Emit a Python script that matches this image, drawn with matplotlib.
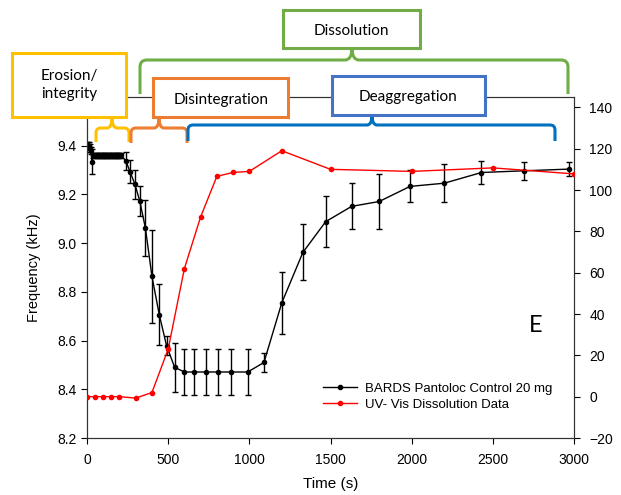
import matplotlib
matplotlib.use("Agg")
import matplotlib.pyplot as plt
from matplotlib.patches import Rectangle, PathPatch
from matplotlib.path import Path
from matplotlib.lines import Line2D

# ---------------- data ----------------
bards_time = [0, 5, 10, 15, 20, 25, 30,
              40, 50, 60, 70, 80, 90, 100, 110, 120, 130, 140, 150, 160, 170, 180, 190, 200, 210,
              240, 265, 295, 325, 360, 400, 445, 490, 540, 600, 660, 730, 810, 890, 990,
              1090, 1200, 1330, 1470, 1630, 1800, 1990, 2200, 2430, 2690, 2970]
bards_freq = [9.40, 9.40, 9.39, 9.40, 9.39, 9.38, 9.335,
              9.36, 9.36, 9.36, 9.36, 9.36, 9.36, 9.36, 9.36, 9.36, 9.36, 9.36, 9.36, 9.36, 9.36, 9.36, 9.36, 9.36, 9.36,
              9.337, 9.293, 9.242, 9.173, 9.061, 8.864, 8.707, 8.579, 8.490, 8.471, 8.471, 8.471, 8.471, 8.471, 8.471,
              8.510, 8.755, 8.962, 9.088, 9.151, 9.171, 9.233, 9.246, 9.290, 9.297, 9.304]
bards_err = [0.015, 0.015, 0.015, 0.015, 0.015, 0.015, 0.05,
             0.012, 0.012, 0.012, 0.012, 0.012, 0.012, 0.012, 0.012, 0.012, 0.012, 0.012, 0.012, 0.012, 0.012, 0.012, 0.012, 0.012, 0.012,
             0.038, 0.048, 0.06, 0.06, 0.115, 0.19, 0.124, 0.038, 0.10, 0.095, 0.095, 0.095, 0.095, 0.095, 0.095,
             0.037, 0.128, 0.115, 0.104, 0.094, 0.111, 0.066, 0.078, 0.049, 0.038, 0.029]

uv_time = [0, 50, 100, 150, 200, 300, 400, 500, 600, 700, 800, 900, 1000, 1200, 1500, 2000, 2500, 3000]
uv_value = [0, 0, 0, 0, 0, -0.7, 2, 23, 62, 87, 106.6, 108.5, 109, 119, 110, 109, 110.7, 107.8]

x_ticks = [0, 500, 1000, 1500, 2000, 2500, 3000]
left_ticks = [8.2, 8.4, 8.6, 8.8, 9.0, 9.2, 9.4]
right_ticks = [-20, 0, 20, 40, 60, 80, 100, 120, 140]

label_bards = "BARDS Pantoloc Control 20 mg"
label_uv = "UV- Vis Dissolution Data"

# ---------------- figure ----------------
W, H = 621, 495
fig = plt.figure(figsize=(W / 100, H / 100), dpi=100)
plt.rcParams['font.family'] = ['Liberation Sans', 'DejaVu Sans']

ax = fig.add_axes([87 / W, 1 - 438 / H, (574 - 87) / W, (438 - 97) / H])
ax.errorbar(bards_time, bards_freq, yerr=bards_err, fmt='none', ecolor='black',
            elinewidth=1.0, capsize=2.2, capthick=1.0, zorder=2)
ax.plot(bards_time, bards_freq, color='black', lw=1.0, marker='o', ms=3.0, zorder=3)
ax.set_xlim(0, 3000)
ax.set_ylim(8.2, 9.6)
ax.set_xticks(x_ticks)
ax.set_yticks(left_ticks)
ax.set_yticklabels([f"{v:.1f}" for v in left_ticks])
ax.tick_params(direction='out', length=4, width=0.8, labelsize=10, colors='black')
ax.tick_params(axis='x', pad=7)
ax.set_xlabel("Time (s)", fontsize=11, labelpad=7)
ax.set_ylabel("Frequency (kHz)", fontsize=10.5, labelpad=12)
for s in ax.spines.values():
    s.set_linewidth(0.8)
    s.set_color('#333333')

ax2 = ax.twinx()
ax2.plot(uv_time, uv_value, color='#FF0000', lw=1.0, marker='o', ms=3.0, zorder=3)
ax2.set_ylim(-20, 145)
ax2.set_yticks(right_ticks)
ax2.tick_params(direction='out', length=4, width=0.8, labelsize=10, colors='black', pad=7)
for s in ax2.spines.values():
    s.set_linewidth(0.8)
    s.set_color('#333333')

handles = [Line2D([], [], color='black', lw=1.0, marker='o', ms=3.0),
           Line2D([], [], color='#FF0000', lw=1.0, marker='o', ms=3.0)]
fig.legend(handles, [label_bards, label_uv], loc='upper left',
           bbox_to_anchor=(316 / W, 1 - 376 / H), frameon=False, fontsize=9.5,
           handlelength=2.6, handletextpad=0.6, labelspacing=0.3, borderpad=0)

ax.text(536 / W, 1 - 325 / H, "E", transform=fig.transFigure, fontsize=17,
        family='Lato', ha='center', va='center')

# ---------------- annotation overlay (pixel coords) ----------------
ov = fig.add_axes([0, 0, 1, 1], zorder=10)
ov.set_xlim(0, W)
ov.set_ylim(H, 0)
ov.axis('off')
ov.patch.set_alpha(0)

def box(x0, y0, x1, y1, color, text, tx, ty, ls=1.2):
    ov.add_patch(Rectangle((x0, y0), x1 - x0, y1 - y0, facecolor='white',
                           edgecolor=color, lw=2.2, zorder=5))
    ov.text(tx, ty, text, ha='center', va='center', fontsize=11, family='Lato',
            color='black', linespacing=ls, zorder=6)

def brace(x1, x2, xc, yh, ytop, yend, color, r=5):
    verts = [(x1, yend), (x1, yh + r), (x1, yh), (x1 + r, yh),
             (xc - r, yh), (xc, yh), (xc, ytop),
             (xc, yh), (xc + r, yh),
             (x2 - r, yh), (x2, yh), (x2, yh + r), (x2, yend)]
    codes = [Path.MOVETO, Path.LINETO, Path.CURVE3, Path.CURVE3,
             Path.LINETO, Path.CURVE3, Path.CURVE3,
             Path.CURVE3, Path.CURVE3,
             Path.LINETO, Path.CURVE3, Path.CURVE3, Path.LINETO]
    ov.add_patch(PathPatch(Path(verts, codes), facecolor='none', edgecolor=color,
                           lw=2.2, zorder=4, capstyle='butt', joinstyle='round'))

GREEN, YELLOW, ORANGE, BLUE, BLUE2 = '#70AD47', '#FFC000', '#ED7D31', '#4472C4', '#0070C0'

brace(140, 568, 352, 60, 48, 94, GREEN, r=7)
brace(96, 129, 112, 128, 117, 142, YELLOW)
brace(131, 187, 159, 128, 117, 143, ORANGE)
brace(188, 555, 372, 125, 115, 141, BLUE2)

box(283, 10, 420, 48, GREEN, "Dissolution", 351.5, 31)
box(12, 53, 126, 117, YELLOW, "Erosion/\nintegrity", 69, 85, ls=1.45)
box(153, 78, 288, 117, ORANGE, "Disintegration", 221, 100)
box(332, 76, 485, 115, BLUE, "Deaggregation", 408, 97)

fig.savefig("out.png", dpi=100)
